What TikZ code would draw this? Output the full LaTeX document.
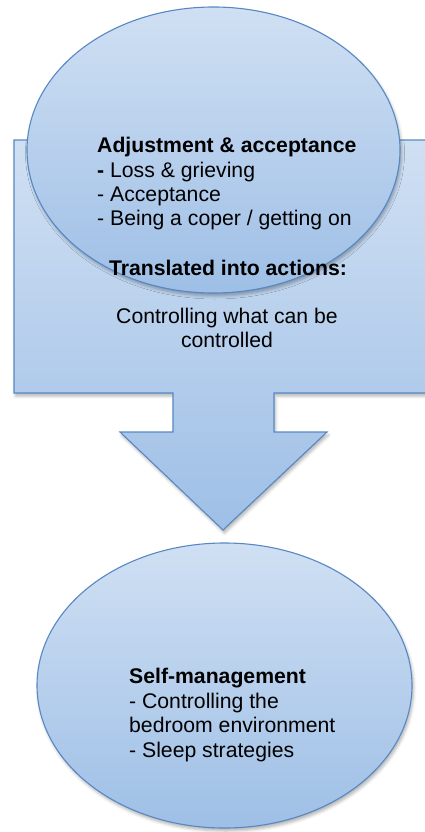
\documentclass[tikz,border=0pt]{standalone}
\usepackage{fontspec}
\setmainfont{Liberation Sans}
\usetikzlibrary{shapes.geometric,shadows.blur}

\definecolor{edgeblue}{RGB}{88,136,196}
\definecolor{filltop}{RGB}{208,224,243}
\definecolor{fillbot}{RGB}{158,191,230}

\tikzset{
  panel/.style={draw=edgeblue, line width=1.1pt, top color=filltop, bottom color=fillbot,
    blur shadow={shadow xshift=1.5pt, shadow yshift=-3pt, shadow blur radius=3pt, shadow opacity=30}},
  blob/.style={panel, ellipse, inner sep=0pt},
  txt/.style={font=\fontsize{21.2}{24}\selectfont, inner sep=0pt, anchor=base west},
  txtb/.style={font=\fontsize{21.2}{24}\selectfont\bfseries, inner sep=0pt, anchor=base west},
  ctxt/.style={txt, anchor=base},
  ctxtb/.style={txtb, anchor=base}
}

\begin{document}
\begin{tikzpicture}[x=1pt, y=-1pt]
  \useasboundingbox (0,0) rectangle (424,832);

  % down-arrow callout behind the first ellipse
  \coordinate (cTL) at (14,140);
  \coordinate (cTR) at (433,140);
  \coordinate (cBR) at (433,393);
  \coordinate (cBL) at (14,393);
  \coordinate (tip) at (223,530);
  \path[panel] (cTL) -- (cTR) -- (cBR) -- (274,393) -- (274,432) -- (327,432)
    -- (tip) -- (120,432) -- (173,432) -- (173,393) -- (cBL) -- cycle;

  % upper ellipse
  \node[blob, minimum width=373pt, minimum height=286pt] (adjust) at (213.5,150) {};
  \node[txtb] (a1) at (97,153) {Adjustment \& acceptance};
  \node[txt]  (a2) at (97,177.3) {\textbf{-} Loss \& grieving};
  \node[txt]  (a3) at (97,201.6) {- Acceptance};
  \node[txt]  (a4) at (97,225.9) {- Being a coper / getting on};

  % callout text
  \node[ctxtb] (c1) at (228,275) {Translated into actions:};
  \node[ctxt]  (c2) at (227,323) {Controlling what can be};
  \node[ctxt]  (c3) at (227,347) {controlled};

  % lower ellipse
  \node[blob, minimum width=375pt, minimum height=285pt] (selfman) at (224.5,685.5) {};
  \node[txtb] (s1) at (129,683) {Self-management};
  \node[txt]  (s2) at (129,708) {- Controlling the};
  \node[txt]  (s3) at (129,732.5) {bedroom environment};
  \node[txt]  (s4) at (129,757) {- Sleep strategies};
\end{tikzpicture}
\end{document}
